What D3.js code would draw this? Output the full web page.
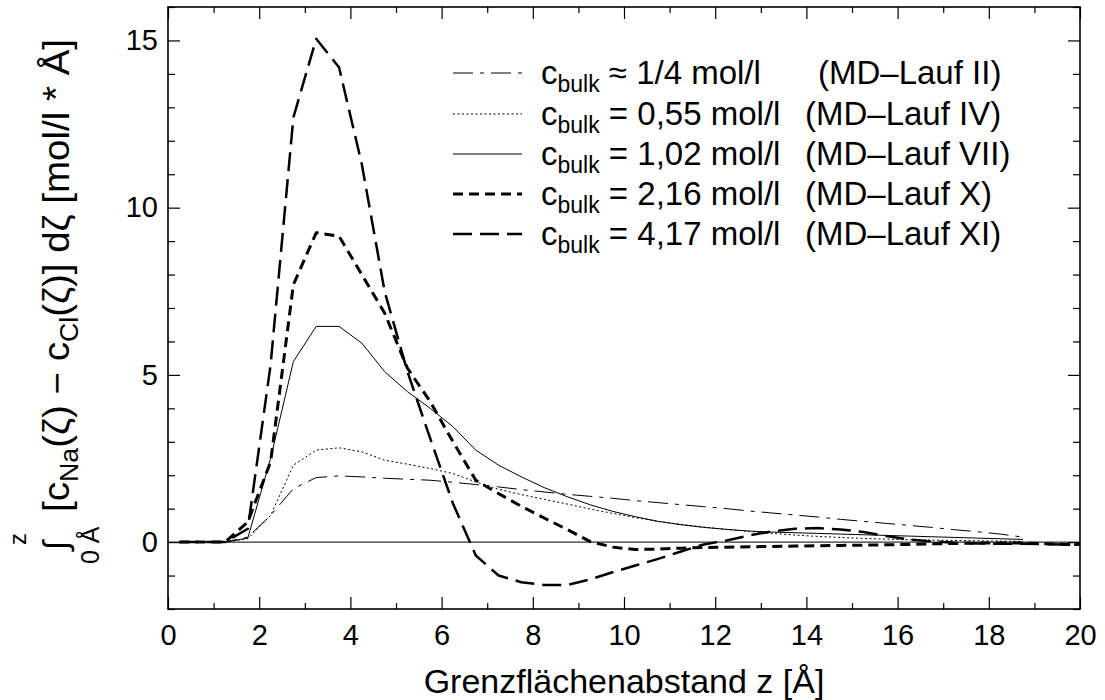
<!DOCTYPE html>
<html>
<head>
<meta charset="utf-8">
<script src="https://cdn.jsdelivr.net/npm/d3@7"></script>
<style>
  body { margin: 0; background: #fff; }
  text { font-family: "Liberation Sans", Arial, Helvetica, sans-serif; fill: #000; }
</style>
</head>
<body>
<script>
// distance from the interface (Å)
var Z = [0.25, 0.75, 1.25, 1.75, 2.25, 2.75, 3.25, 3.75, 4.25, 4.75,
         5.25, 5.75, 6.25, 6.75, 7.25, 7.75, 8.25, 8.75, 9.25, 9.75,
         10.25, 10.75, 11.25, 11.75, 12.25, 12.75, 13.25, 13.75, 14.25, 14.75,
         15.25, 15.75, 16.25, 16.75, 17.25, 17.75, 18.25, 18.75, 19.25, 19.75, 20.25];

// integrated charge excess, one list per MD run (mol/l * Å)
var RUN_II = [0, 0, 0, 0.15, 0.8, 1.6, 1.93, 1.98, 1.95, 1.91,
              1.88, 1.85, 1.79, 1.72, 1.65, 1.57, 1.5, 1.43, 1.37, 1.31,
              1.24, 1.18, 1.12, 1.06, 1.0, 0.93, 0.87, 0.81, 0.75, 0.68,
              0.62, 0.56, 0.5, 0.44, 0.37, 0.31, 0.24, 0.15];
var RUN_IV = [0, 0, 0, 0.1, 0.8, 2.3, 2.75, 2.82, 2.7, 2.45,
              2.33, 2.2, 2.05, 1.8, 1.58, 1.42, 1.28, 1.14, 0.99, 0.86,
              0.73, 0.62, 0.53, 0.45, 0.38, 0.32, 0.26, 0.21, 0.17, 0.14,
              0.11, 0.09, 0.07, 0.06, 0.05, 0.04, 0.03, 0.02];
var RUN_VII = [0, 0, 0, 0.12, 2.5, 5.4, 6.45, 6.45, 5.95, 5.1,
               4.5, 4.0, 3.45, 2.75, 2.3, 1.95, 1.63, 1.36, 1.12, 0.92,
               0.76, 0.62, 0.52, 0.44, 0.38, 0.33, 0.3, 0.28, 0.26, 0.24,
               0.22, 0.2, 0.18, 0.16, 0.14, 0.12, 0.1, 0.08];
var RUN_X = [0, 0, 0, 0.6, 2.4, 7.7, 9.25, 9.15, 8.0, 6.85,
             5.2, 4.2, 3.0, 1.85, 1.45, 1.07, 0.72, 0.38, 0.02, -0.15,
             -0.22, -0.21, -0.18, -0.16, -0.15, -0.14, -0.13, -0.12, -0.11, -0.1,
             -0.09, -0.08, -0.07, -0.05, -0.04, -0.03, -0.03, -0.03, -0.05, -0.07, -0.08];
var RUN_XI = [0, 0, 0, 0.4, 5.3, 12.7, 15.05, 14.2, 11.3, 7.5,
              5.1, 3.1, 1.15, -0.4, -1.0, -1.2, -1.28, -1.28, -1.12, -0.9,
              -0.7, -0.5, -0.28, -0.07, 0.05, 0.2, 0.32, 0.4, 0.42, 0.38,
              0.3, 0.18, 0.08, 0.02, -0.02, -0.04, -0.05, -0.05, -0.06, -0.07, -0.08];

var CONC_LABELS = ["\u2248 1/4 mol/l", "= 0,55 mol/l", "= 1,02 mol/l", "= 2,16 mol/l", "= 4,17 mol/l"];
var RUN_LABELS = ["(MD\u2013Lauf II)", "(MD\u2013Lauf IV)", "(MD\u2013Lauf VII)", "(MD\u2013Lauf X)", "(MD\u2013Lauf XI)"];

var X_TICKS = [0, 2, 4, 6, 8, 10, 12, 14, 16, 18, 20];
var X_MINOR = [1, 3, 5, 7, 9, 11, 13, 15, 17, 19];
var Y_TICKS = [0, 5, 10, 15];
var Y_MINOR = [-2, -1, 1, 2, 3, 4, 6, 7, 8, 9, 11, 12, 13, 14, 16];

// line styles, same order as the runs
var LINE_STYLES = [
  { dash: "20,7,4,7", width: 1 },
  { dash: "2,2.5", width: 1 },
  { dash: null, width: 1 },
  { dash: "10,6", width: 3 },
  { dash: "19,8", width: 2.5 }
];
var runs = [RUN_II, RUN_IV, RUN_VII, RUN_X, RUN_XI];

var W = 1105, H = 700;
var LEFT = 168, RIGHT = 1080, TOP = 7, BOTTOM = 609;

var svg = d3.select("body").append("svg")
    .attr("width", W)
    .attr("height", H);

svg.append("rect").attr("width", W).attr("height", H).attr("fill", "#fff");

var x = d3.scaleLinear().domain([0, 20]).range([LEFT, RIGHT]);
var y = d3.scaleLinear().domain([-2, 16]).range([BOTTOM, TOP]);

svg.append("clipPath").attr("id", "plotclip")
  .append("rect")
    .attr("x", LEFT).attr("y", TOP)
    .attr("width", RIGHT - LEFT).attr("height", BOTTOM - TOP);

// zero line
svg.append("line")
    .attr("x1", LEFT).attr("x2", RIGHT)
    .attr("y1", y(0)).attr("y2", y(0))
    .attr("stroke", "#333")
    .attr("stroke-width", 1.2);

// curves
var line = d3.line()
    .defined(function(d) { return d[1] != null; })
    .x(function(d) { return x(d[0]); })
    .y(function(d) { return y(d[1]); });

var curveGroup = svg.append("g").attr("clip-path", "url(#plotclip)");
runs.forEach(function(vals, i) {
    var pts = vals.map(function(v, k) { return [Z[k], v]; });
    curveGroup.append("path")
        .datum(pts)
        .attr("d", line)
        .attr("fill", "none")
        .attr("stroke", "#000")
        .attr("stroke-width", LINE_STYLES[i].width)
        .attr("stroke-dasharray", LINE_STYLES[i].dash)
        .attr("stroke-linejoin", "round");
});

// axes - ticks pointing inward on every side
function styleAxis(g) {
    g.select(".domain").remove();
    g.selectAll(".tick line").attr("stroke", "#000").attr("stroke-width", 1.2);
    g.selectAll(".tick text").style("font-size", "29px").attr("fill", "#000");
}

svg.append("g")
    .attr("transform", "translate(0," + BOTTOM + ")")
    .call(d3.axisBottom(x).tickValues(X_TICKS).tickSizeInner(-12).tickSizeOuter(0).tickPadding(15))
    .call(styleAxis);
svg.append("g")
    .attr("transform", "translate(0," + BOTTOM + ")")
    .call(d3.axisBottom(x).tickValues(X_MINOR).tickSizeInner(-6).tickSizeOuter(0).tickFormat(""))
    .call(styleAxis);
svg.append("g")
    .attr("transform", "translate(0," + TOP + ")")
    .call(d3.axisTop(x).tickValues(X_TICKS).tickSizeInner(-12).tickSizeOuter(0).tickFormat(""))
    .call(styleAxis);
svg.append("g")
    .attr("transform", "translate(0," + TOP + ")")
    .call(d3.axisTop(x).tickValues(X_MINOR).tickSizeInner(-6).tickSizeOuter(0).tickFormat(""))
    .call(styleAxis);

svg.append("g")
    .attr("transform", "translate(" + LEFT + ",0)")
    .call(d3.axisLeft(y).tickValues(Y_TICKS).tickSizeInner(-12).tickSizeOuter(0).tickPadding(10))
    .call(styleAxis);
svg.append("g")
    .attr("transform", "translate(" + LEFT + ",0)")
    .call(d3.axisLeft(y).tickValues(Y_MINOR).tickSizeInner(-7).tickSizeOuter(0).tickFormat(""))
    .call(styleAxis);
svg.append("g")
    .attr("transform", "translate(" + RIGHT + ",0)")
    .call(d3.axisRight(y).tickValues(Y_TICKS).tickSizeInner(-12).tickSizeOuter(0).tickFormat(""))
    .call(styleAxis);
svg.append("g")
    .attr("transform", "translate(" + RIGHT + ",0)")
    .call(d3.axisRight(y).tickValues(Y_MINOR).tickSizeInner(-7).tickSizeOuter(0).tickFormat(""))
    .call(styleAxis);

// frame
svg.append("rect")
    .attr("x", LEFT).attr("y", TOP)
    .attr("width", RIGHT - LEFT).attr("height", BOTTOM - TOP)
    .attr("fill", "none")
    .attr("stroke", "#000")
    .attr("stroke-width", 1.6);

// x axis title
svg.append("text")
    .attr("x", (LEFT + RIGHT) / 2)
    .attr("y", 693)
    .attr("text-anchor", "middle")
    .style("font-size", "34px")
    .text("Grenzfl\u00e4chenabstand z [\u00c5]");

// y axis title (rotated, built from pieces)
var ylab = svg.append("g").attr("transform", "translate(69,512) scale(1,1.07) rotate(-90)");
var main = ylab.append("text").attr("x", 0).attr("y", 0).style("font-size", "36px");
main.append("tspan").text("[c");
main.append("tspan").attr("dy", 9).style("font-size", "25px").text("Na");
main.append("tspan").attr("dy", -9).text("(\u03b6) \u2212 c");
main.append("tspan").attr("dy", 9).style("font-size", "25px").text("Cl");
main.append("tspan").attr("dy", -9).text("(\u03b6)] d\u03b6  [mol/l * \u00c5]");

var integ = svg.append("g").attr("transform", "translate(67,550) rotate(-90)");
integ.append("text").attr("x", 0).attr("y", 0).style("font-size", "34px").text("\u222b");
var lim = svg.append("g").attr("transform", "translate(26,545) rotate(-90)");
lim.append("text").attr("x", 0).attr("y", 0).style("font-size", "24px").text("z");
var lim0 = svg.append("g").attr("transform", "translate(99,564) rotate(-90)");
lim0.append("text").attr("x", 0).attr("y", 0).style("font-size", "25px").text("0 \u00c5");

// legend
var LEG_ROWS = [73, 114, 154, 194, 234];
var legend = svg.append("g");
LINE_STYLES.forEach(function(st, i) {
    var ly = LEG_ROWS[i];
    legend.append("line")
        .attr("x1", 453).attr("x2", 522)
        .attr("y1", ly).attr("y2", ly)
        .attr("stroke", "#000")
        .attr("stroke-width", st.width)
        .attr("stroke-dasharray", st.dash);
    var t = legend.append("text")
        .attr("x", 541).attr("y", ly + 11)
        .style("font-size", "33px");
    t.append("tspan").text("c");
    t.append("tspan").attr("dy", 8).style("font-size", "23px").text("bulk");
    t.append("tspan").attr("dy", -8).text(" " + CONC_LABELS[i]);
    legend.append("text")
        .attr("x", i === 0 ? 818 : 805).attr("y", ly + 11)
        .style("font-size", "33px")
        .text(RUN_LABELS[i]);
});
</script>
</body>
</html>
